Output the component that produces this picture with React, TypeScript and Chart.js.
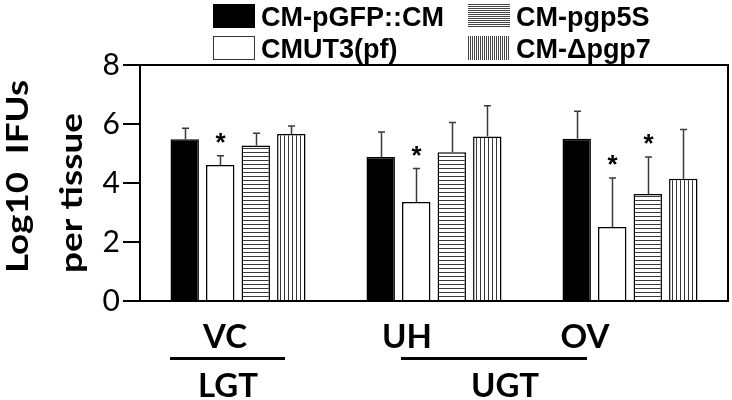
import React, { useEffect, useRef } from 'react';
import { Chart, registerables } from 'chart.js';

Chart.register(...registerables);

// ---------------- data ----------------
const categories = ['VC', 'UH', 'OV'];
const seriesNames = ['CM-pGFP::CM', 'CMUT3(pf)', 'CM-pgp5S', 'CM-\u0394pgp7'];
const pGFP = [5.48, 4.88, 5.5];
const pGFPErr = [0.38, 0.85, 0.93];
const mut3 = [4.61, 3.36, 2.51];
const mut3Err = [0.31, 1.13, 1.66];
const pgp5S = [5.27, 5.04, 3.63];
const pgp5SErr = [0.42, 1.01, 1.25];
const dpgp7 = [5.66, 5.58, 4.14];
const dpgp7Err = [0.27, 1.04, 1.67];
const pGFPStar = [false, false, false];
const mut3Star = [true, true, true];
const pgp5SStar = [false, false, true];
const dpgp7Star = [false, false, false];
const yMin = 0;
const yMax = 8;
const yStep = 2;
const yTitleLines = ['Log10  IFUs', 'per tissue'];
const tissueGroups = ['LGT', 'UGT'];

const seriesValues = [pGFP, mut3, pgp5S, dpgp7];
const seriesErrors = [pGFPErr, mut3Err, pgp5SErr, dpgp7Err];
const seriesStars = [pGFPStar, mut3Star, pgp5SStar, dpgp7Star];

// ---------------- helpers ----------------
function makeHatch(dir: 'h' | 'v', period: number, color: string): CanvasPattern | string {
  const c = document.createElement('canvas');
  c.width = dir === 'h' ? 4 : period;
  c.height = dir === 'h' ? period : 4;
  const ctx = c.getContext('2d');
  if (!ctx) return '#fff';
  ctx.fillStyle = '#fff';
  ctx.fillRect(0, 0, c.width, c.height);
  ctx.fillStyle = color;
  if (dir === 'h') ctx.fillRect(0, 0, c.width, 1);
  else ctx.fillRect(0, 0, 1, c.height);
  const p = ctx.createPattern(c, 'repeat');
  return p || '#fff';
}

const LABEL_FONT = 'bold 33px Lato, "Open Sans", sans-serif';

const errorBarPlugin = {
  id: 'errorBars',
  afterDatasetsDraw(chart: any) {
    const ctx = chart.ctx;
    const yScale = chart.scales.y;
    ctx.save();
    ctx.strokeStyle = '#3a3a3a';
    ctx.lineWidth = 1.5;
    chart.data.datasets.forEach((_ds: any, i: number) => {
      const meta = chart.getDatasetMeta(i);
      meta.data.forEach((el: any, j: number) => {
        const v = seriesValues[i][j];
        const e = seriesErrors[i][j];
        const yTop = yScale.getPixelForValue(v + e);
        const x = Math.round(el.x) + 0.5;
        ctx.beginPath();
        ctx.moveTo(x, el.y);
        ctx.lineTo(x, yTop);
        ctx.moveTo(x - 3.5, yTop);
        ctx.lineTo(x + 3.5, yTop);
        ctx.stroke();
        if (seriesStars[i][j]) {
          ctx.save();
          ctx.fillStyle = '#000';
          ctx.font = 'bold 26px "Liberation Sans", Arial, sans-serif';
          ctx.textAlign = 'center';
          ctx.textBaseline = 'alphabetic';
          const m = ctx.measureText('*');
          const asc = m.actualBoundingBoxAscent;
          const desc = m.actualBoundingBoxDescent;
          const cy = yTop - 18;
          ctx.fillText('*', x, cy + (asc - desc) / 2);
          ctx.restore();
        }
      });
    });
    ctx.restore();
  },
};

const decorPlugin = {
  id: 'decor',
  afterDraw(chart: any) {
    const ctx = chart.ctx;
    const a = chart.chartArea;
    const x = chart.scales.x;
    ctx.save();
    // frame
    ctx.strokeStyle = '#000';
    ctx.lineWidth = 2;
    ctx.strokeRect(a.left, a.top, a.right - a.left, a.bottom - a.top);

    // category labels
    const p = categories.map((_c, i) => x.getPixelForValue(i));
    const shifts = [-13, -27, -45];
    ctx.fillStyle = '#000';
    ctx.font = LABEL_FONT;
    ctx.textAlign = 'center';
    ctx.textBaseline = 'alphabetic';
    categories.forEach((c, i) => ctx.fillText(c, p[i] + shifts[i], a.bottom + 47));

    // group lines
    ctx.lineWidth = 3;
    const lineY = a.bottom + 57.5;
    ctx.beginPath();
    ctx.moveTo(p[0] - 68, lineY);
    ctx.lineTo(p[0] + 47, lineY);
    ctx.moveTo(p[1] - 33, lineY);
    ctx.lineTo(p[2] - 43, lineY);
    ctx.stroke();
    ctx.fillText(tissueGroups[0], p[0] - 10, a.bottom + 96);
    ctx.fillText(tissueGroups[1], (p[1] + p[2]) / 2 - 27, a.bottom + 96);

    // y title (rotated, two lines, start-aligned at bottom)
    ctx.font = 'bold 30px Lato, "Open Sans", sans-serif';
    ctx.textAlign = 'left';
    const baselines = [28, 82];
    const lengths = [193, 160];
    yTitleLines.forEach((t, i) => {
      const w = ctx.measureText(t).width;
      ctx.save();
      ctx.translate(baselines[i], 273);
      ctx.rotate(-Math.PI / 2);
      ctx.scale(lengths[i] / w, 1);
      ctx.fillText(t, 0, 0);
      ctx.restore();
    });

    // legend
    const fills = chart.data.datasets.map((d: any) => d.legendFill);
    const cols = [213, 468];
    const rows = [4, 36];
    ctx.font = 'bold 27px "Liberation Sans", Arial, sans-serif';
    seriesNames.forEach((name, i) => {
      const col = cols[Math.floor(i / 2)];
      const row = rows[i % 2];
      ctx.fillStyle = fills[i];
      ctx.fillRect(col, row, 42, 24);
      if (i === 1) {
        ctx.strokeStyle = '#333';
        ctx.lineWidth = 1;
        ctx.strokeRect(col + 0.5, row + 0.5, 41, 23);
      }
      ctx.fillStyle = '#000';
      ctx.fillText(name, col + 48, row + 22);
    });
    ctx.restore();
  },
};

export default function App() {
  const ref = useRef<HTMLCanvasElement | null>(null);
  useEffect(() => {
    if (!ref.current) return;
    const hH = makeHatch('h', 4, '#3a3a3a');
    const hV = makeHatch('v', 4, '#3a3a3a');
    const lH = makeHatch('h', 2, '#444');
    const lV = makeHatch('v', 2, '#444');
    const bg = ['#000', '#fff', hH, hV];
    const lf = ['#000', '#fff', lH, lV];
    const chart = new Chart(ref.current, {
      type: 'bar',
      data: {
        labels: categories,
        datasets: seriesNames.map((n, i) => ({
          label: n,
          data: seriesValues[i],
          backgroundColor: bg[i] as any,
          borderColor: '#000',
          borderWidth: 1.5,
          categoryPercentage: 0.725,
          barPercentage: 0.8,
          legendFill: lf[i],
        })) as any,
      },
      options: {
        responsive: false,
        animation: false,
        events: [],
        layout: { padding: { top: 65, right: 4, bottom: 99, left: 0 } },
        plugins: { legend: { display: false }, tooltip: { enabled: false } },
        scales: {
          x: { display: false },
          y: {
            min: yMin,
            max: yMax,
            afterFit: (s: any) => {
              s.width = 140;
            },
            ticks: {
              stepSize: yStep,
              padding: 3,
              color: '#000',
              font: { family: 'Lato, "Open Sans", sans-serif', size: 30 },
            },
            grid: { drawOnChartArea: false, tickLength: 17, color: '#000', lineWidth: 2 },
            border: { display: true, color: '#000', width: 2 },
          },
        },
      },
      plugins: [errorBarPlugin, decorPlugin],
    });
    return () => chart.destroy();
  }, []);
  return (
    <div style={{ position: 'absolute', left: 0, top: 0, width: 732, height: 400, background: '#fff' }}>
      <canvas ref={ref} width={732} height={400} style={{ display: 'block' }} />
    </div>
  );
}
